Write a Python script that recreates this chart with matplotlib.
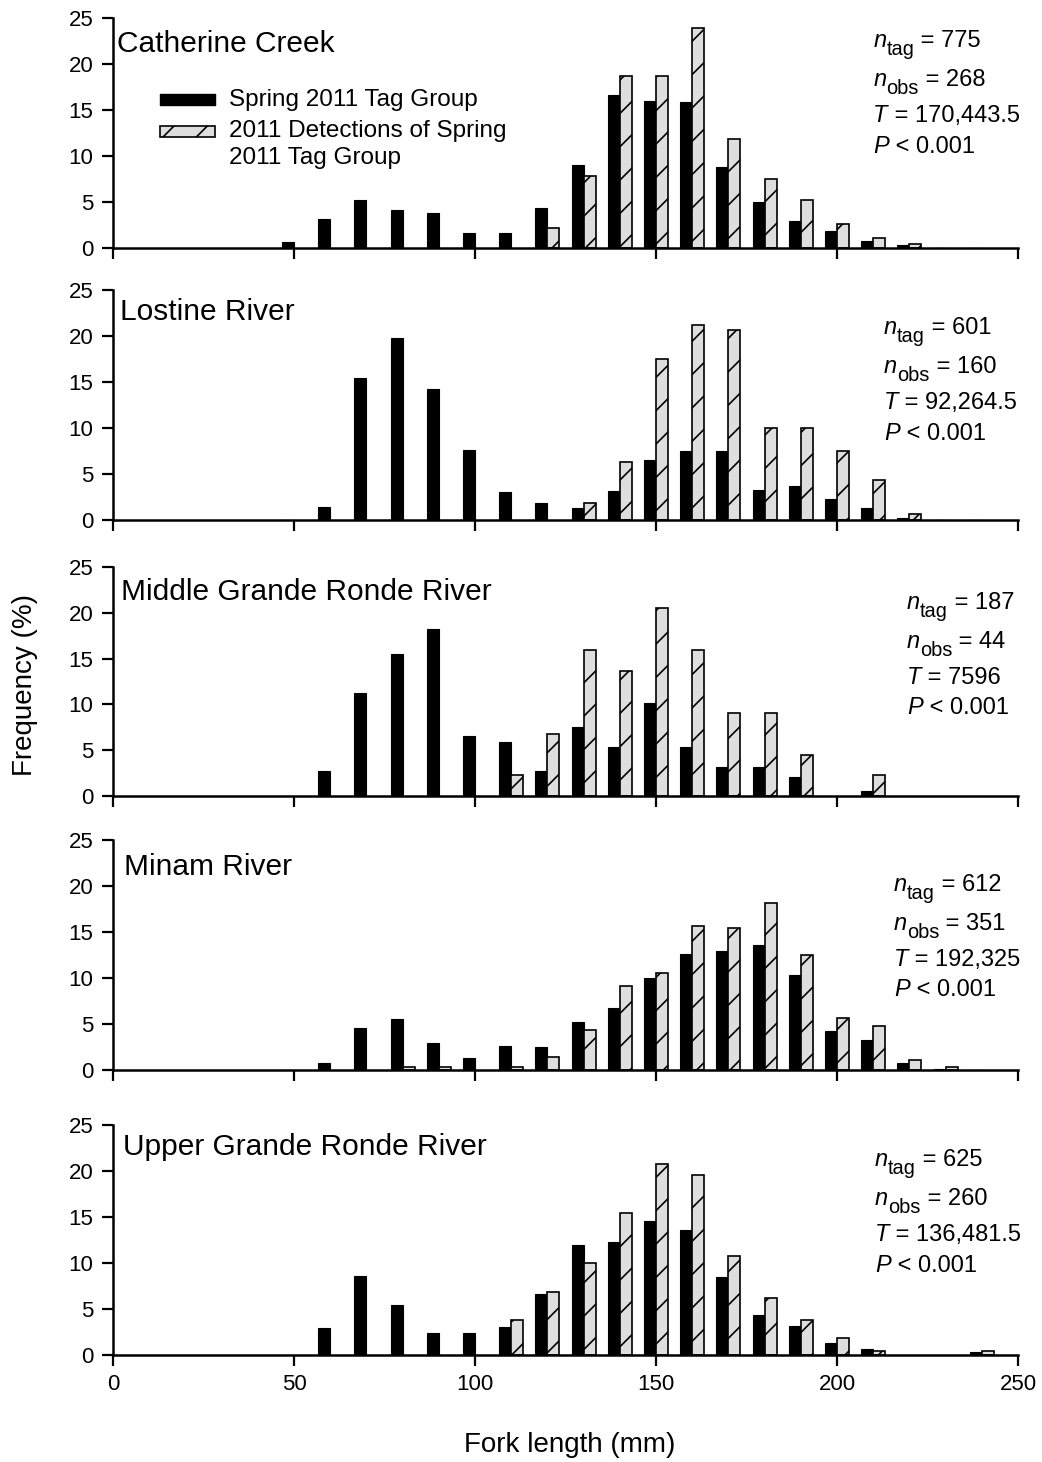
import matplotlib
matplotlib.use("Agg")
import matplotlib.pyplot as plt
from matplotlib.patches import Rectangle
from matplotlib.transforms import offset_copy
import numpy as np

plt.rcParams['font.family'] = ['Liberation Sans', 'DejaVu Sans']
plt.rcParams['hatch.linewidth'] = 1.2

# ---------------- data ----------------
bins = [50, 60, 70, 80, 90, 100, 110, 120, 130, 140, 150, 160, 170, 180, 190, 200, 210, 220, 230, 240]

sites = ["Catherine Creek", "Lostine River", "Middle Grande Ronde River", "Minam River",
         "Upper Grande Ronde River"]

catherine_tag = [0.7, 3.2, 5.2, 4.1, 3.8, 1.6, 1.6, 4.3, 9.0, 16.6, 16.0, 15.9, 8.8, 5.0, 2.9, 1.9, 0.8, 0.3, 0, 0]
catherine_det = [0, 0, 0, 0, 0, 0, 0, 2.2, 7.8, 18.7, 18.7, 23.9, 11.9, 7.5, 5.2, 2.6, 1.1, 0.4, 0, 0]

lostine_tag = [0, 1.45, 15.4, 19.8, 14.2, 7.6, 3.0, 1.85, 1.3, 3.2, 6.5, 7.5, 7.5, 3.3, 3.7, 2.3, 1.3, 0.2, 0, 0]
lostine_det = [0, 0, 0, 0, 0, 0, 0, 0, 1.9, 6.25, 17.5, 21.25, 20.6, 10.0, 10.0, 7.5, 4.4, 0.6, 0, 0]

middle_tag = [0, 2.7, 11.2, 15.5, 18.2, 6.5, 5.9, 2.7, 7.5, 5.35, 10.2, 5.35, 3.2, 3.2, 2.1, 0, 0.5, 0, 0, 0]
middle_det = [0, 0, 0, 0, 0, 0, 2.3, 6.8, 15.9, 13.6, 20.5, 15.9, 9.1, 9.1, 4.5, 0, 2.3, 0, 0, 0]

minam_tag = [0, 0.8, 4.6, 5.5, 2.9, 1.3, 2.6, 2.45, 5.2, 6.7, 10.0, 12.6, 12.9, 13.6, 10.3, 4.2, 3.3, 0.8, 0.15, 0]
minam_det = [0, 0, 0, 0.28, 0.28, 0, 0.28, 1.4, 4.3, 9.1, 10.5, 15.7, 15.4, 18.2, 12.5, 5.7, 4.8, 1.1, 0.28, 0]

upper_tag = [0, 2.9, 8.6, 5.4, 2.4, 2.4, 3.0, 6.6, 12.0, 12.3, 14.6, 13.6, 8.5, 4.3, 3.2, 1.3, 0.6, 0, 0, 0.3]
upper_det = [0, 0, 0, 0, 0, 0, 3.85, 6.9, 10.0, 15.4, 20.8, 19.6, 10.8, 6.15, 3.85, 1.9, 0.4, 0, 0, 0.4]

tag_series = [catherine_tag, lostine_tag, middle_tag, minam_tag, upper_tag]
det_series = [catherine_det, lostine_det, middle_det, minam_det, upper_det]

n_tag = ["775", "601", "187", "612", "625"]
n_obs = ["268", "160", "44", "351", "260"]
T_vals = ["170,443.5", "92,264.5", "7596", "192,325", "136,481.5"]
P_vals = ["0.001", "0.001", "0.001", "0.001", "0.001"]

x_ticks = [0, 50, 100, 150, 200, 250]
y_ticks = [0, 5, 10, 15, 20, 25]

legend_labels = ["Spring 2011 Tag Group", "2011 Detections of Spring", "2011 Tag Group"]

# ---------------- layout ----------------
W, H = 1042, 1462
fig = plt.figure(figsize=(W / 100, H / 100), dpi=100)
renderer = fig.canvas.get_renderer()

panel_px = [(18, 248), (290, 520), (567, 796), (840, 1070), (1125, 1355)]
left_px, right_px = 113, 1018
title_pos = [(1.1, 22.2), (1.9, 22.6), (2.2, 22.3), (3.0, 22.1), (2.8, 22.6)]
stats_pos = [(210.0, 21.85), (213.0, 20.2), (219.3, 20.4), (215.7, 19.5), (210.5, 20.5)]
line_off = [0, 4.24, 8.15, 11.5]
FS = 17


def chain(ax, x, y, parts):
    dx = 0.0
    for txt, style, size, dy in parts:
        tr = offset_copy(ax.transData, fig=fig, x=dx, y=dy, units='dots')
        t = ax.text(x, y, txt, fontsize=size, style=style, va='baseline', ha='left', transform=tr)
        dx += t.get_window_extent(renderer).width


bw = 3.3
xb = np.array(bins, dtype=float)

for i, (top, bot) in enumerate(panel_px):
    ax = fig.add_axes([left_px / W, 1 - bot / H, (right_px - left_px) / W, (bot - top) / H])
    ax.bar(xb - bw / 2, tag_series[i], width=bw, color='black', edgecolor='black', linewidth=0.8)
    det = np.array(det_series[i], dtype=float)
    mask = det > 0
    ax.bar(xb[mask] + bw / 2, det[mask], width=bw, color='#dedede', edgecolor='black',
           linewidth=1.2, hatch='/')
    ax.set_xlim(0, 250)
    ax.set_ylim(0, 25)
    ax.set_xticks(x_ticks)
    ax.set_yticks(y_ticks)
    for s in ['top', 'right']:
        ax.spines[s].set_visible(False)
    for s in ['left', 'bottom']:
        ax.spines[s].set_linewidth(1.8)
    ax.tick_params(axis='both', direction='out', length=8, width=1.6, labelsize=16, pad=6)
    if i < 4:
        ax.tick_params(axis='x', labelbottom=False)
    ax.text(title_pos[i][0], title_pos[i][1], sites[i], fontsize=21.5, va='center', ha='left')

    sx, sy = stats_pos[i]
    chain(ax, sx, sy - line_off[0], [("n", 'italic', FS, 0), ("tag", 'normal', FS * 0.85, -8),
                                      (" = " + n_tag[i], 'normal', FS, 0)])
    chain(ax, sx, sy - line_off[1], [("n", 'italic', FS, 0), ("obs", 'normal', FS * 0.85, -8),
                                      (" = " + n_obs[i], 'normal', FS, 0)])
    chain(ax, sx, sy - line_off[2], [("T", 'italic', FS, 0), (" = " + T_vals[i], 'normal', FS, 0)])
    chain(ax, sx, sy - line_off[3], [("P", 'italic', FS, 0), (" < " + P_vals[i], 'normal', FS, 0)])

    if i == 0:
        ax.add_patch(Rectangle((13.0, 15.5), 15.2, 1.2, facecolor='black', edgecolor='black',
                               linewidth=1, clip_on=False))
        ax.add_patch(Rectangle((13.0, 12.1), 15.2, 1.2, facecolor='#dedede', edgecolor='black',
                               linewidth=1.2, hatch='/', clip_on=False))
        ax.text(32, 16.1, legend_labels[0], fontsize=17.5, va='center', ha='left')
        ax.text(32, 12.7, legend_labels[1], fontsize=17.5, va='center', ha='left')
        ax.text(32, 9.8, legend_labels[2], fontsize=17.5, va='center', ha='left')

fig.text(570 / W, 1 - 1445 / H, "Fork length (mm)", fontsize=20, ha='center', va='center')
fig.text(25 / W, 1 - 685 / H, "Frequency (%)", fontsize=20, ha='center', va='center',
         rotation=90)

fig.savefig("out.png", dpi=100)
